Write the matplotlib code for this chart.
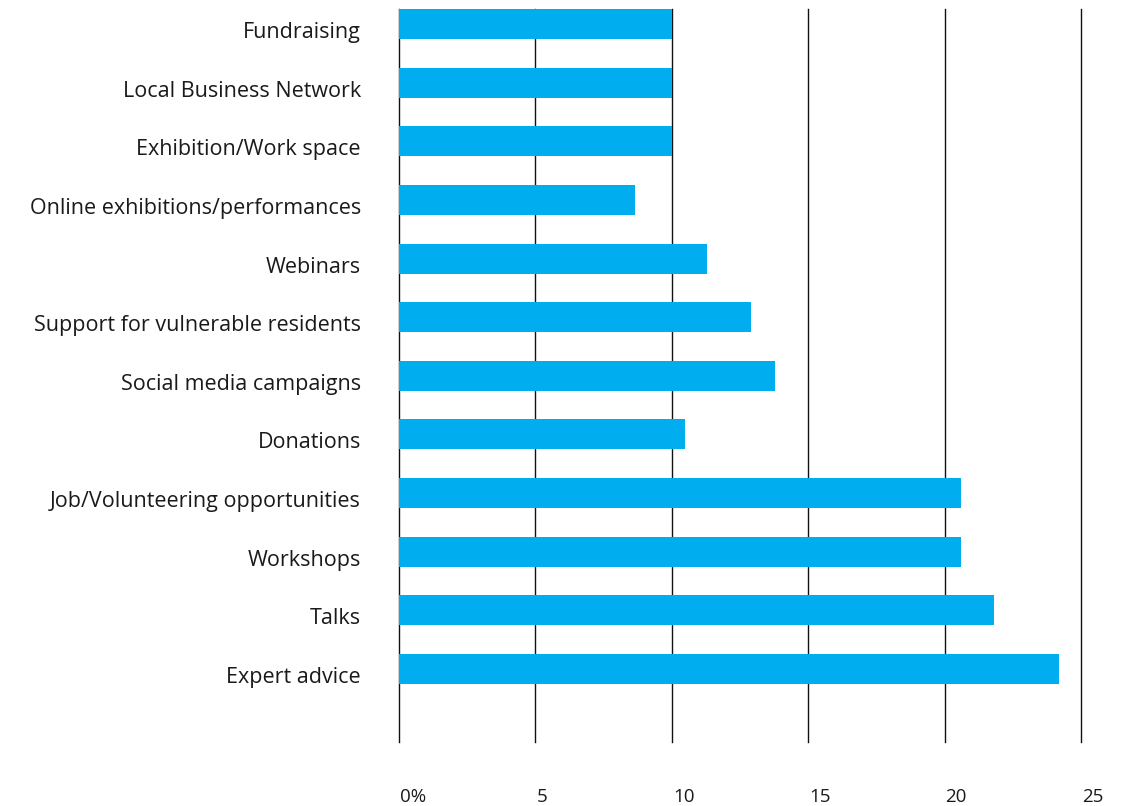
import matplotlib.pyplot as plt
from matplotlib.transforms import ScaledTranslation

categories = ['Expert advice', 'Talks', 'Workshops', 'Job/Volunteering opportunities',
              'Donations', 'Social media campaigns', 'Support for vulnerable residents',
              'Webinars', 'Online exhibitions/performances', 'Exhibition/Work space',
              'Local Business Network', 'Fundraising']
values = [24.2, 21.8, 20.6, 20.6, 10.5, 13.8, 12.9, 11.3, 8.65, 10.0, 10.0, 10.0]
ticks = [0, 5, 10, 15, 20, 25]
tick_labels = ['0%', '5', '10', '15', '20', '25']

plt.rcParams['font.family'] = ['Open Sans', 'DejaVu Sans']

fig = plt.figure(figsize=(11.22, 8.06), dpi=100)
ax = fig.add_axes([399 / 1122, 64 / 806, (1081 - 399) / 1122, (797 - 64) / 806])

pos = list(range(len(categories)))
ax.barh(pos, values, height=0.51, color='#00AEEF', zorder=1)

for t in ticks:
    ax.axvline(t, color='#111111', lw=1.0, zorder=0, clip_on=False)

ax.set_xlim(0, 25)
ax.set_ylim(-1.25, 11.26)
ax.set_yticks(pos)
ax.set_yticklabels(categories, fontsize=15.5, color='#1a1a1a')
ax.set_xticks(ticks)
ax.set_xticklabels(tick_labels, fontsize=13.5, color='#1a1a1a', ha='left')
ax.tick_params(axis='y', length=0, pad=27.5)
ax.tick_params(axis='x', length=0, pad=33)

# nudge labels a touch down, like the reference
shift = ScaledTranslation(0, -6 / 100, fig.dpi_scale_trans)
for lbl in ax.get_yticklabels():
    lbl.set_transform(lbl.get_transform() + shift)
xshift = ScaledTranslation(1 / 100, 0, fig.dpi_scale_trans)
for lbl in ax.get_xticklabels():
    lbl.set_transform(lbl.get_transform() + xshift)

for s in ax.spines.values():
    s.set_visible(False)

fig.savefig('out.png', dpi=100)
